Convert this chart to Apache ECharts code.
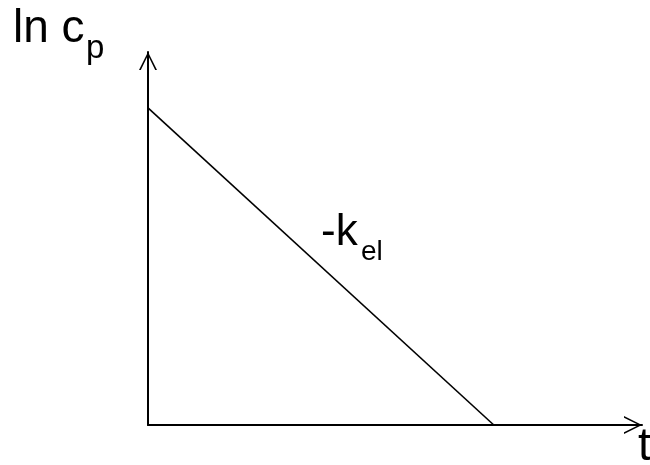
<!DOCTYPE html>
<html>
<head>
<meta charset="utf-8">
<title>ln c_p vs t</title>
<script src="https://cdn.jsdelivr.net/npm/echarts@6/dist/echarts.min.js"></script>
<style>
  html, body { margin: 0; padding: 0; background: #fff; }
  #chart { width: 650px; height: 465px; }
</style>
</head>
<body>
<div id="chart"></div>
<script>
// Elimination phase: ln c_p falls linearly with time (slope -k_el)
const timePoints = [0, 7];
const lnConc = [8.5, 0];

// Axis extents (arbitrary units, no ticks shown)
const tRange = [0, 10];
const lnRange = [0, 10];

const FONT = "'Liberation Sans', Arial, Helvetica, sans-serif";

// Open chevron arrow head, pointing up in its own frame
const openArrow = 'path://M0 100 L50 0 L100 100 L90 100 L50 18 L10 100 Z';

const axisLineStyle = {
  show: true,
  symbol: ['none', openArrow],
  symbolSize: [20, 18],
  symbolOffset: [0, -9],
  lineStyle: { color: '#000', width: 2 }
};

const chart = echarts.init(document.getElementById('chart'), null, { renderer: 'canvas' });

chart.setOption({
  animation: false,
  backgroundColor: '#fff',
  grid: { left: 148, right: 8, top: 52, bottom: 40 },
  xAxis: {
    type: 'value',
    min: tRange[0],
    max: tRange[1],
    axisLine: axisLineStyle,
    axisTick: { show: false },
    axisLabel: { show: false },
    splitLine: { show: false }
  },
  yAxis: {
    type: 'value',
    min: lnRange[0],
    max: lnRange[1],
    axisLine: axisLineStyle,
    axisTick: { show: false },
    axisLabel: { show: false },
    splitLine: { show: false }
  },
  series: [{
    type: 'line',
    data: timePoints.map((t, i) => [t, lnConc[i]]),
    symbol: 'none',
    lineStyle: { color: '#000', width: 1.6 },
    z: 1
  }],
  graphic: [
    { type: 'text', left: 13, top: 6, style: { text: 'ln c', font: '46px ' + FONT, fill: '#000' } },
    { type: 'text', left: 86, top: 32, style: { text: 'p', font: '33px ' + FONT, fill: '#000' } },
    { type: 'text', left: 321, top: 211, style: { text: '-k', font: '44px ' + FONT, fill: '#000' } },
    { type: 'text', left: 361, top: 238, style: { text: 'el', font: '28px ' + FONT, fill: '#000' } },
    { type: 'text', left: 638, top: 424, style: { text: 't', font: '46px ' + FONT, fill: '#000' } }
  ]
});
</script>
</body>
</html>
